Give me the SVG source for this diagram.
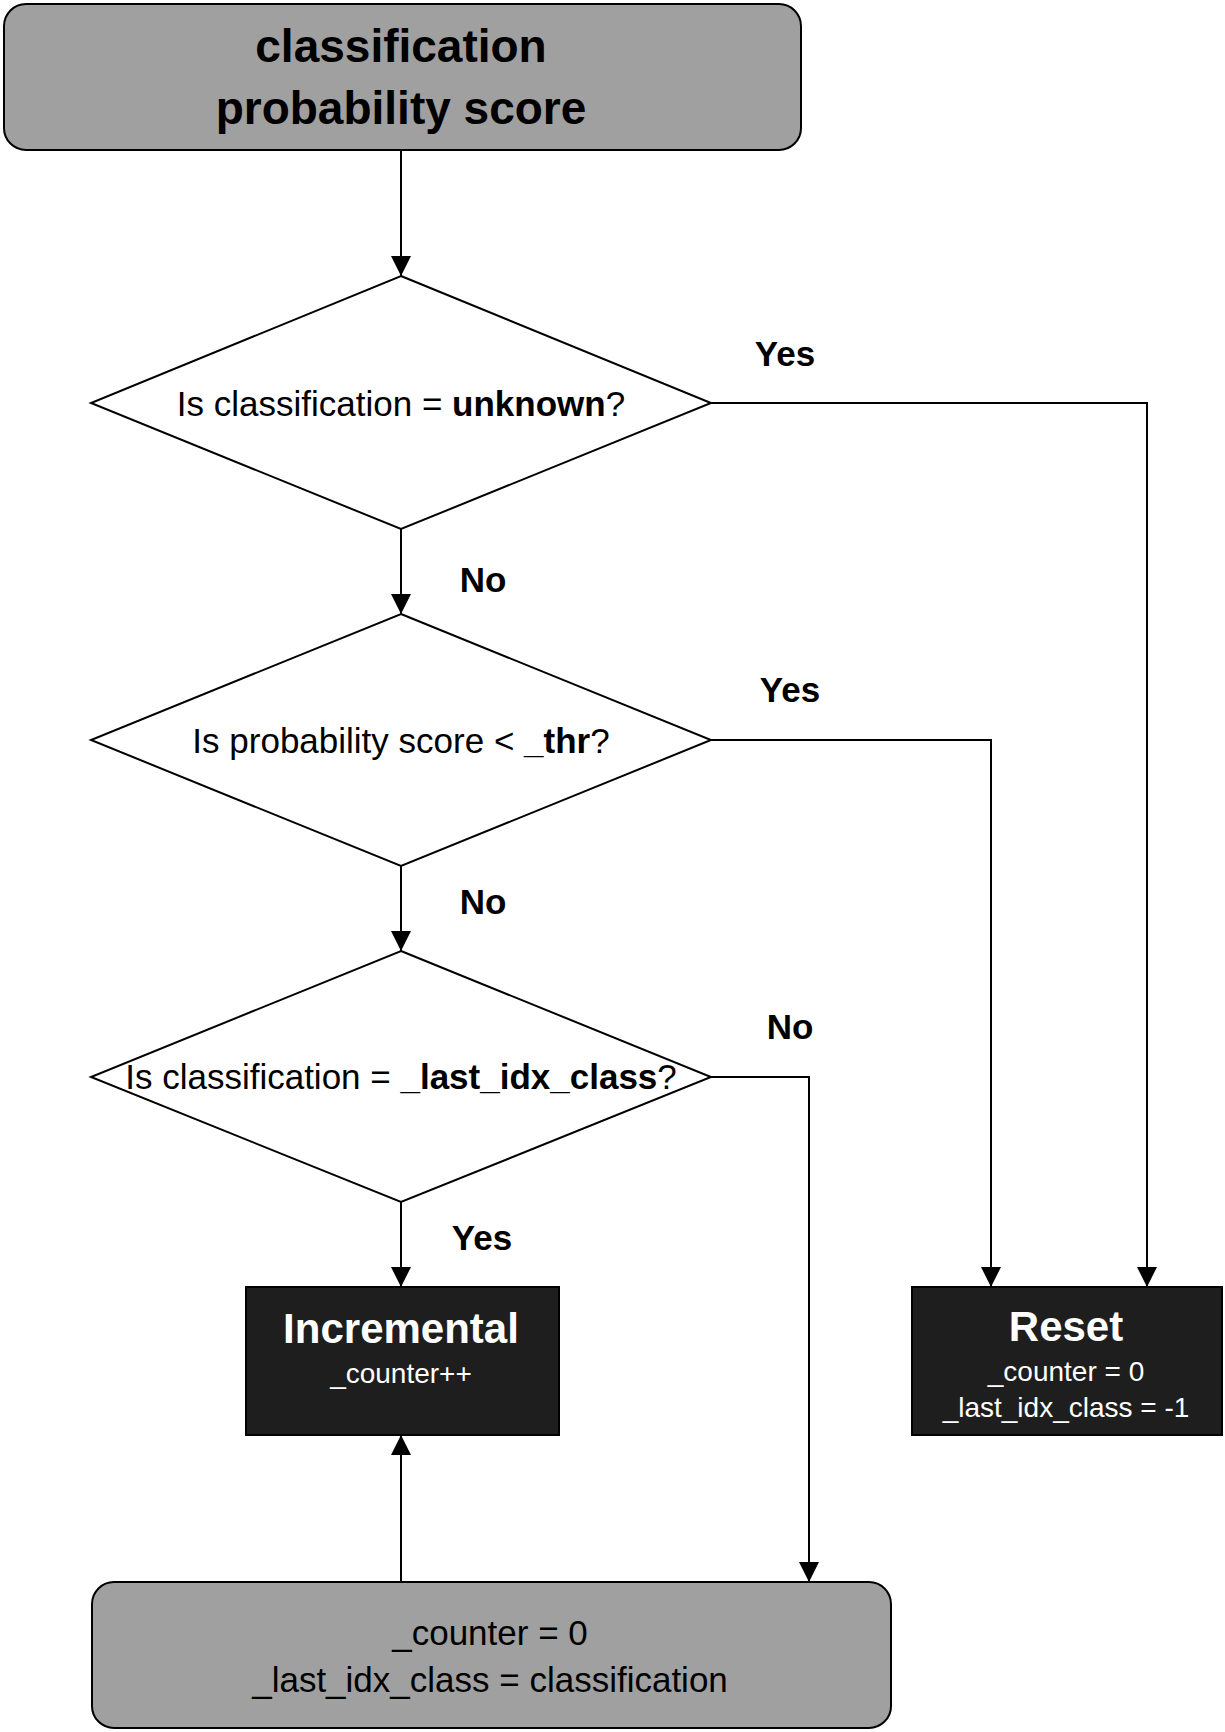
<svg xmlns="http://www.w3.org/2000/svg" width="1225" height="1732" viewBox="0 0 1225 1732">
  <defs>
    <marker id="arrow" viewBox="0 0 20 20" refX="20" refY="10" markerWidth="20" markerHeight="20" markerUnits="userSpaceOnUse" orient="auto">
      <path d="M0,0 L20,10 L0,20 Z" fill="#000"/>
    </marker>
    <style>
      text { font-family: "Liberation Sans", Arial, sans-serif; }
      .gray { fill: #a0a0a0; stroke: #000; stroke-width: 2; }
      .dark { fill: #1e1e1e; stroke: #000; stroke-width: 2; }
      .diamond { fill: #fff; stroke: #000; stroke-width: 2; }
      .conn { fill: none; stroke: #000; stroke-width: 2; marker-end: url(#arrow); }
      .title { font-size: 46px; font-weight: bold; fill: #000; text-anchor: middle; }
      .q { font-size: 35px; fill: #000; text-anchor: middle; }
      .b { font-weight: bold; }
      .lbl { font-size: 35px; font-weight: bold; fill: #000; text-anchor: middle; }
      .head { font-size: 42px; font-weight: bold; fill: #fff; text-anchor: middle; }
      .sub { font-size: 28px; fill: #fff; text-anchor: middle; }
      .body { font-size: 35px; fill: #000; text-anchor: middle; }
    </style>
  </defs>
  <rect width="1225" height="1732" fill="#fff"/>

  <g id="connectors">
    <line class="conn" x1="401" y1="150" x2="401" y2="276"/>
    <line class="conn" x1="401" y1="529" x2="401" y2="614"/>
    <line class="conn" x1="401" y1="866" x2="401" y2="951"/>
    <line class="conn" x1="401" y1="1202" x2="401" y2="1287"/>
    <line class="conn" x1="401" y1="1582" x2="401" y2="1435"/>
    <polyline class="conn" points="711,403 1147,403 1147,1287"/>
    <polyline class="conn" points="711,740 991,740 991,1287"/>
    <polyline class="conn" points="711,1077 809,1077 809,1582"/>
    <text class="lbl" x="785" y="366">Yes</text>
    <text class="lbl" x="483" y="592">No</text>
    <text class="lbl" x="790" y="702">Yes</text>
    <text class="lbl" x="483" y="914">No</text>
    <text class="lbl" x="790" y="1039">No</text>
    <text class="lbl" x="482" y="1250">Yes</text>
  </g>

  <g id="start">
    <rect class="gray" x="4" y="4" width="797" height="146" rx="22" ry="22"/>
    <text class="title" x="401" y="62">classification</text>
    <text class="title" x="401" y="124">probability score</text>
  </g>

  <g id="q-unknown">
    <polygon class="diamond" points="401,276 711,403 401,529 91,403"/>
    <text class="q" x="401" y="416">Is classification = <tspan class="b">unknown</tspan>?</text>
  </g>

  <g id="q-thr">
    <polygon class="diamond" points="401,614 711,740 401,866 91,740"/>
    <text class="q" x="401" y="753" font-size="36">Is probability score &lt; <tspan class="b">_thr</tspan>?</text>
  </g>

  <g id="q-last">
    <polygon class="diamond" points="401,951 711,1077 401,1202 91,1077"/>
    <text class="q" x="401" y="1089" font-size="33">Is classification = <tspan class="b">_last_idx_class</tspan>?</text>
  </g>

  <g id="incremental">
    <rect class="dark" x="246" y="1287" width="313" height="148"/>
    <text class="head" x="401" y="1343">Incremental</text>
    <text class="sub" x="401" y="1383">_counter++</text>
  </g>

  <g id="reset">
    <rect class="dark" x="912" y="1287" width="310" height="148"/>
    <text class="head" x="1066" y="1341">Reset</text>
    <text class="sub" x="1066" y="1381">_counter = 0</text>
    <text class="sub" x="1066" y="1417">_last_idx_class = -1</text>
  </g>

  <g id="update">
    <rect class="gray" x="92" y="1582" width="799" height="146" rx="22" ry="22"/>
    <text class="body" x="490" y="1645">_counter = 0</text>
    <text class="body" x="490" y="1692">_last_idx_class = classification</text>
  </g>
</svg>
